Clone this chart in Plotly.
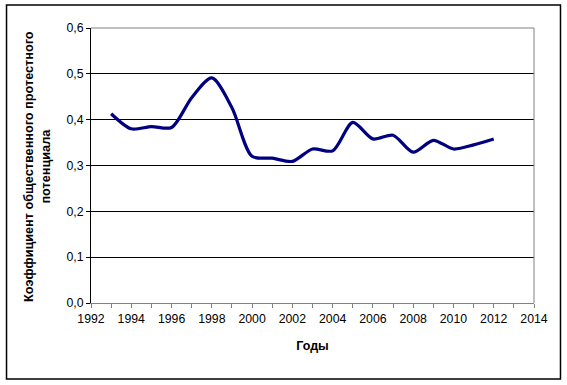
import plotly.graph_objects as go

years = list(range(1993, 2013))
values = [0.413, 0.380, 0.385, 0.383, 0.448, 0.491, 0.426, 0.320, 0.316, 0.309,
          0.336, 0.332, 0.394, 0.358, 0.366, 0.329, 0.355, 0.336, 0.345, 0.358]

x_tick_vals = list(range(1992, 2015))
x_tick_text = [str(y) if y % 2 == 0 else "" for y in x_tick_vals]
y_tick_vals = [0.0, 0.1, 0.2, 0.3, 0.4, 0.5, 0.6]

y_title = "Коэффициент общественного протестного<br>потенциала"
x_title = "Годы"

fig = go.Figure()
fig.add_trace(go.Scatter(
    x=years, y=values, mode="lines",
    line=dict(color="#000080", width=3.2, shape="spline", smoothing=0.8),
    showlegend=False, hoverinfo="x+y",
))

font = "Liberation Sans, Arial, sans-serif"

fig.update_layout(
    width=567, height=385,
    margin=dict(l=91, r=33, t=28, b=82),
    paper_bgcolor="white", plot_bgcolor="white",
    separators=", ",
    font=dict(family=font, size=12, color="black"),
    xaxis=dict(
        range=[1992, 2014], tickmode="array", tickvals=x_tick_vals, ticktext=x_tick_text,
        ticks="outside", ticklen=4, tickcolor="#808080", showgrid=False, zeroline=False,
        showline=True, linecolor="#808080", linewidth=1, automargin=False,
        title=dict(text="<b>" + x_title + "</b>", font=dict(size=12.5), standoff=16),
        tickfont=dict(size=12.3),
    ),
    yaxis=dict(
        range=[0, 0.6], tickmode="array", tickvals=y_tick_vals, tickformat=".1f",
        ticks="outside", ticklen=4, tickcolor="black", showgrid=True, gridcolor="black",
        gridwidth=1, zeroline=False, showline=True, linecolor="black", linewidth=1,
        automargin=False, tickfont=dict(size=12.3),
    ),
    annotations=[
        dict(text="<b>" + y_title + "</b>", xref="paper", yref="paper",
             x=-0.1196, y=0.495, xanchor="center", yanchor="middle",
             textangle=-90, align="center", showarrow=False,
             font=dict(size=12.7, family=font, color="black")),
    ],
    shapes=[
        dict(type="line", xref="paper", yref="paper", x0=0, x1=1, y0=1, y1=1,
             line=dict(color="#808080", width=1), layer="above"),
        dict(type="line", xref="paper", yref="paper", x0=1, x1=1, y0=0, y1=1,
             line=dict(color="#808080", width=1), layer="above"),
        dict(type="rect", xref="paper", yref="paper",
             x0=-0.1907, x1=1.0598, y0=-0.2764, y1=1.0836,
             line=dict(color="black", width=1.5), fillcolor="rgba(0,0,0,0)"),
    ],
)

fig.write_html("out.html", config={"displayModeBar": False},
               post_script="document.body.style.margin='0';")
